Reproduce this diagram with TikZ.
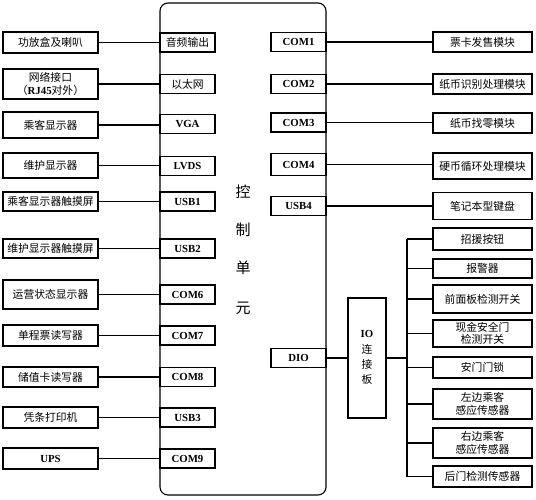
\documentclass[tikz,border=0pt]{standalone}
\usepackage{fontspec}
\setmainfont{Liberation Serif}
\newfontfamily\cjk{Noto Sans CJK SC}
\newcommand{\zh}[1]{{\cjk\mdseries #1}}
\tikzset{
  bx/.style={draw, line width=1.1pt, inner sep=0pt, align=center, font=\fontsize{10.8}{13}\selectfont},
  lbox/.style={bx, minimum width=95pt},
  lport/.style={bx, minimum width=55pt, minimum height=19pt, font=\fontsize{10.8}{13}\selectfont\bfseries},
  rmod/.style={bx, minimum width=99pt},
  wire/.style={line width=1.1pt},
}
\begin{document}
\begin{tikzpicture}[x=1pt,y=-1pt]
\useasboundingbox (0,0) rectangle (536,500);
% control unit
\draw[line width=1.1pt, rounded corners=8pt] (160,3) rectangle (326,495);
\node[font=\fontsize{15}{18}\selectfont\cjk] (t1) at (243,192) {控};
\node[font=\fontsize{15}{18}\selectfont\cjk] (t2) at (243,230) {制};
\node[font=\fontsize{15}{18}\selectfont\cjk] (t3) at (243,268) {单};
\node[font=\fontsize{15}{18}\selectfont\cjk] (t4) at (243,308) {元};
% left boxes
\node[lbox, minimum height=21pt] (l1) at (50.5,42.5) {\zh{功放盒及喇叭}};
\node[lbox, minimum height=30pt] (l2) at (50.5,84) {\zh{网络接口}\\\zh{（}\textbf{RJ45}\zh{对外）}};
\node[lbox, minimum height=26pt] (l3) at (50.5,125) {\zh{乘客显示器}};
\node[lbox, minimum height=25pt] (l4) at (50.5,165.5) {\zh{维护显示器}};
\node[lbox, minimum height=19pt] (l5) at (50.5,201.5) {\zh{乘客显示器触摸屏}};
\node[lbox, minimum height=19pt] (l6) at (50.5,248.5) {\zh{维护显示器触摸屏}};
\node[lbox, minimum height=29pt] (l7) at (50.5,294.5) {\zh{运营状态显示器}};
\node[lbox, minimum height=21pt] (l8) at (50.5,335.5) {\zh{单程票读写器}};
\node[lbox, minimum height=20pt] (l9) at (50.5,377) {\zh{储值卡读写器}};
\node[lbox, minimum height=21pt] (l10) at (50.5,417.5) {\zh{凭条打印机}};
\node[lbox, minimum height=21pt] (l11) at (50.5,458.5) {\textbf{UPS}};
% left ports
\node[lport] (p1) at (187.5,42.5) {\zh{音频输出}};
\node[lport] (p2) at (187.5,84) {\zh{以太网}};
\node[lport] (p3) at (187.5,124) {VGA};
\node[lport] (p4) at (187.5,166) {LVDS};
\node[lport] (p5) at (187.5,201.5) {USB1};
\node[lport] (p6) at (187.5,248.5) {USB2};
\node[lport] (p7) at (187.5,294.5) {COM6};
\node[lport] (p8) at (187.5,335.5) {COM7};
\node[lport] (p9) at (187.5,377) {COM8};
\node[lport] (p10) at (187.5,417.5) {USB3};
\node[lport] (p11) at (187.5,458.5) {COM9};
\foreach \i in {1,...,11} {\draw[wire] (l\i.east) -- (l\i.east -| p\i.west);}
% right ports
\node[lport] (q1) at (298.5,42) {COM1};
\node[lport] (q2) at (298.5,84) {COM2};
\node[lport] (q3) at (298.5,122.5) {COM3};
\node[lport, minimum height=22pt] (q4) at (298.5,164.5) {COM4};
\node[lport] (q5) at (298.5,206) {USB4};
\node[lport] (q6) at (298.5,358) {DIO};
% right modules
\node[rmod, minimum height=20pt] (m1) at (482.5,42) {\zh{票卡发售模块}};
\node[rmod, minimum height=20pt] (m2) at (482.5,84) {\zh{纸币识别处理模块}};
\node[rmod, minimum height=20pt] (m3) at (482.5,123) {\zh{纸币找零模块}};
\node[rmod, minimum height=26pt] (m4) at (482.5,166) {\zh{硬币循环处理模块}};
\node[rmod, minimum height=27pt] (m5) at (482.5,206) {\zh{笔记本型键盘}};
\foreach \i in {1,...,5} {\draw[wire] (q\i.east) -- (q\i.east -| m\i.west);}
% IO board
\node[bx, minimum width=38pt, minimum height=120pt] (io) at (367,358) {};
\node[font=\fontsize{10.8}{13}\selectfont\bfseries] (iot) at (367,334) {IO};
\node[font=\fontsize{10.8}{13}\selectfont\cjk] (io2) at (367,349) {连};
\node[font=\fontsize{10.8}{13}\selectfont\cjk] (io3) at (367,364) {接};
\node[font=\fontsize{10.8}{13}\selectfont\cjk] (io4) at (367,379) {板};
\draw[wire] (q6.east) -- (io.west |- q6.east);
% IO modules
\node[rmod, minimum height=22pt] (n1) at (482.5,239) {\zh{招援按钮}};
\node[rmod, minimum height=19pt] (n2) at (482.5,268.5) {\zh{报警器}};
\node[rmod, minimum height=28pt] (n3) at (482.5,299) {\zh{前面板检测开关}};
\node[rmod, minimum height=27pt, font=\fontsize{10.8}{12.5}\selectfont] (n4) at (482.5,333.5) {\zh{现金安全门}\\\zh{检测开关}};
\node[rmod, minimum height=21pt] (n5) at (482.5,367.5) {\zh{安门门锁}};
\node[rmod, minimum height=30pt, font=\fontsize{10.8}{13}\selectfont] (n6) at (482.5,404) {\zh{左边乘客}\\\zh{感应传感器}};
\node[rmod, minimum height=30pt, font=\fontsize{10.8}{13}\selectfont] (n7) at (482.5,443) {\zh{右边乘客}\\\zh{感应传感器}};
\node[rmod, minimum height=21pt] (n8) at (482.5,476.5) {\zh{后门检测传感器}};
\coordinate (bj) at (407,358);
\draw[wire] (io.east |- bj) -- (bj);
\draw[wire] (n1.west -| bj) -- (n8.west -| bj);
\foreach \i in {1,...,8} {\draw[wire] (n\i.west -| bj) -- (n\i.west);}
\end{tikzpicture}
\end{document}
